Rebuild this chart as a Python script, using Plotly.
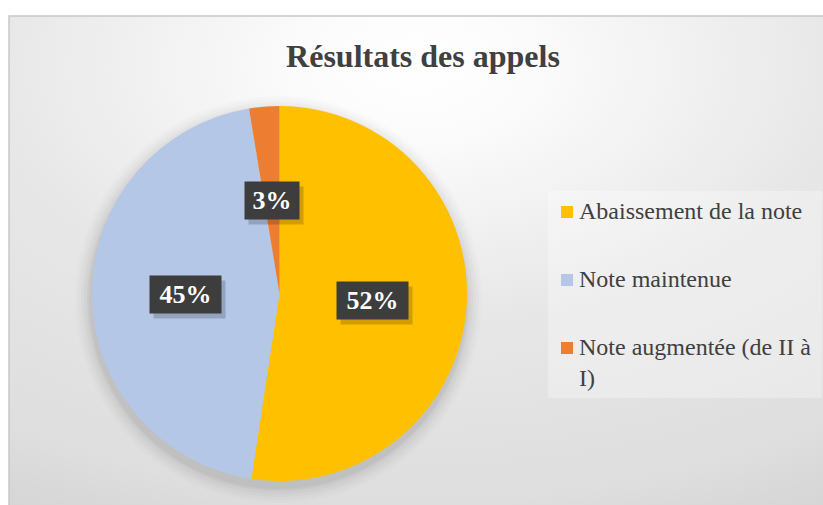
import base64
import math
import plotly.graph_objects as go

# ---------------- data ----------------
labels = ["Abaissement de la note", "Note maintenue", "Note augmentée (de II à I)"]
legend_texts = ["Abaissement de la note", "Note maintenue", "Note augmentée (de II à<br>I)"]
values = [52.4, 45.0, 2.6]   # shares (%); labels show 52 %, 45 %, 3 %
colors = ["#FFC000", "#B4C7E7", "#ED7D31"]
title_text = "Résultats des appels"

# ---------------- layout constants (pixels) ----------------
W, H = 823, 505
CX, CY, R = 279.5, 293.5, 187.5
FRAME_X, FRAME_Y = 9, 16
TEXT_COLOR = "#404040"
SERIF = "Liberation Serif, Times New Roman, serif"


def px(x):
    return x / W


def py(y):
    return 1 - y / H


# background gradient as svg image
svg = f"""<svg xmlns='http://www.w3.org/2000/svg' width='{W-FRAME_X}' height='{H-FRAME_Y}' viewBox='0 0 {W-FRAME_X} {H-FRAME_Y}' preserveAspectRatio='none'>
<defs><radialGradient id='g' cx='0.5' cy='0.1' r='1.05' fx='0.5' fy='0.1'>
<stop offset='0' stop-color='rgb(255,255,255)'/>
<stop offset='0.12' stop-color='rgb(252,252,252)'/>
<stop offset='0.5' stop-color='rgb(231,231,231)'/>
<stop offset='0.85' stop-color='rgb(222,222,222)'/>
<stop offset='1' stop-color='rgb(212,212,212)'/>
</radialGradient></defs>
<rect x='0' y='0' width='{W-FRAME_X}' height='{H-FRAME_Y}' fill='url(#g)'/>
</svg>"""
svg_uri = "data:image/svg+xml;base64," + base64.b64encode(svg.encode("utf-8")).decode("ascii")

fig = go.Figure()
fig.add_trace(go.Pie(
    labels=labels,
    values=values,
    marker=dict(colors=colors, line=dict(width=0)),
    sort=False,
    direction="clockwise",
    rotation=0,
    textinfo="none",
    hoverinfo="label+percent",
    domain=dict(x=[px(CX - R), px(CX + R)], y=[py(CY + R), py(CY - R)]),
    showlegend=False,
))

shapes = []
# frame
shapes.append(dict(type="rect", xref="paper", yref="paper",
                   x0=px(FRAME_X), x1=px(W + 5), y0=py(H + 5), y1=py(FRAME_Y),
                   line=dict(color="#c8c8c8", width=1.5), fillcolor="rgba(0,0,0,0)", layer="above"))
# soft pie shadow
for grow, op in [(16, 0.012), (13, 0.016), (10, 0.02), (7, 0.025), (4, 0.03), (2, 0.035)]:
    rr = R + grow
    shapes.append(dict(type="circle", xref="paper", yref="paper",
                       x0=px(CX - rr - 1), x1=px(CX + rr - 1),
                       y0=py(CY + 6 + rr), y1=py(CY + 6 - rr),
                       line=dict(width=0), fillcolor=f"rgba(0,0,0,{op})", layer="below"))
# legend box
LEG_X0, LEG_X1, LEG_Y0, LEG_Y1 = 548, 822, 191, 398
shapes.append(dict(type="rect", xref="paper", yref="paper",
                   x0=px(LEG_X0), x1=px(LEG_X1), y0=py(LEG_Y1), y1=py(LEG_Y0),
                   line=dict(width=0), fillcolor="rgba(255,255,255,0.3)", layer="below"))

annotations = []
# legend entries
LEG_ROW0, LEG_STEP, SQ = 212, 68, 12
for i, (txt, col) in enumerate(zip(legend_texts, colors)):
    yc = LEG_ROW0 + i * LEG_STEP
    shapes.append(dict(type="rect", xref="paper", yref="paper",
                       x0=px(561), x1=px(561 + SQ), y0=py(yc + SQ / 2), y1=py(yc - SQ / 2),
                       line=dict(width=0), fillcolor=col))
    annotations.append(dict(xref="paper", yref="paper", x=px(577), y=py(yc - 16),
                            xanchor="left", yanchor="top", align="left",
                            text=txt, showarrow=False,
                            font=dict(family=SERIF, size=24, color=TEXT_COLOR)))

# data labels placed at half radius along each slice's mid-angle
total = sum(values)
cum = 0
for v in values:
    mid = (cum + v / 2) / total * 2 * math.pi
    cum += v
    lx = CX + 0.5 * R * math.sin(mid)
    ly = CY - 0.5 * R * math.cos(mid)
    txt = f"{round(v / total * 100)}%"
    bw = 20 + 17 * len(txt)
    bh = 37
    # shadow
    annotations.append(dict(xref="paper", yref="paper", x=px(lx + 4), y=py(ly + 5),
                            xanchor="center", yanchor="middle", text=" ", showarrow=False,
                            width=bw, height=bh, borderpad=0,
                            bgcolor="rgba(0,0,0,0.18)", font=dict(size=10)))
    annotations.append(dict(xref="paper", yref="paper", x=px(lx), y=py(ly),
                            xanchor="center", yanchor="middle", text=f"<b>{txt}</b>",
                            showarrow=False, width=bw, height=bh, borderpad=0,
                            bgcolor="#3d3d3d",
                            font=dict(family=SERIF, size=26, color="#ffffff")))

fig.update_layout(
    width=W, height=H,
    margin=dict(l=0, r=0, t=0, b=0),
    paper_bgcolor="#ffffff",
    plot_bgcolor="rgba(0,0,0,0)",
    title=dict(text=f"<b>{title_text}</b>", x=px(423), xanchor="center",
               y=py(56), yanchor="middle", yref="container",
               font=dict(family=SERIF, size=32, color=TEXT_COLOR)),
    images=[dict(source=svg_uri, xref="paper", yref="paper",
                 x=px(FRAME_X), y=py(FRAME_Y), sizex=px(W - FRAME_X), sizey=(H - FRAME_Y) / H,
                 xanchor="left", yanchor="top", sizing="stretch", layer="below")],
    shapes=shapes,
    annotations=annotations,
    showlegend=False,
)

fig.write_html("out.html",
               config={"displayModeBar": False},
               post_script="document.body.style.margin='0';document.body.style.overflow='hidden';")
